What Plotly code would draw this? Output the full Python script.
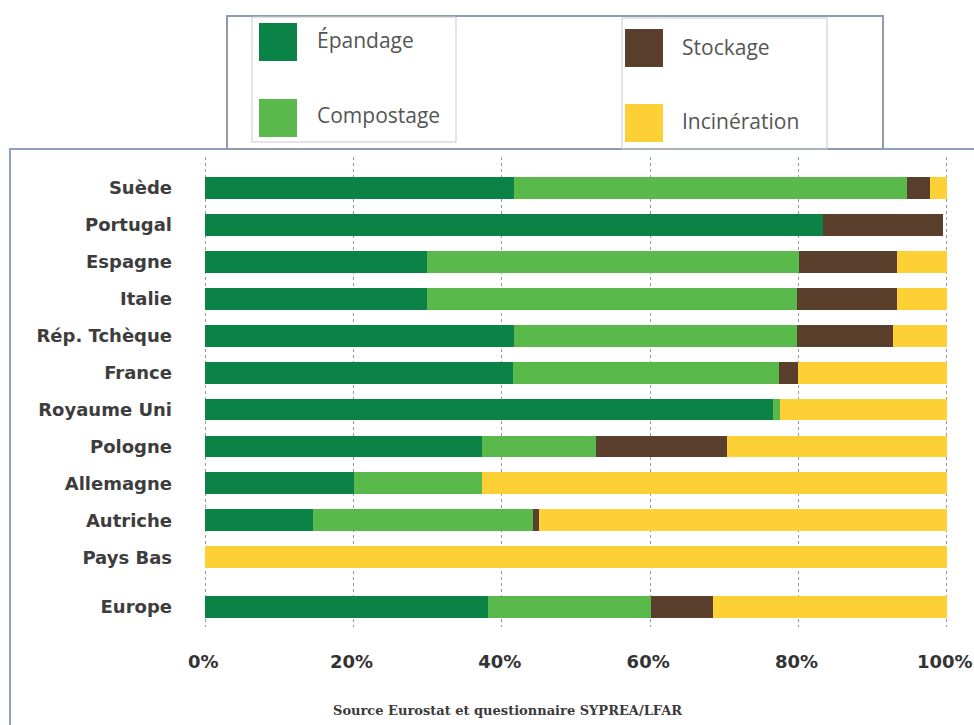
import plotly.graph_objects as go

# ---- data (percent shares) ----
countries = ["Suède", "Portugal", "Espagne", "Italie", "Rép. Tchèque", "France",
             "Royaume Uni", "Pologne", "Allemagne", "Autriche", "Pays Bas", "Europe"]
epandage = [41.6, 83.3, 29.9, 29.9, 41.6, 41.5, 76.5, 37.3, 20.1, 14.6, 0.0, 38.1]
compostage = [53.1, 0.0, 50.2, 49.9, 38.2, 35.9, 1.0, 15.4, 17.2, 29.6, 0.0, 22.0]
stockage = [3.1, 16.2, 13.2, 13.5, 12.9, 2.5, 0.0, 17.7, 0.0, 0.8, 0.0, 8.4]
incineration = [2.2, 0.0, 6.7, 6.7, 7.3, 20.1, 22.5, 29.6, 62.7, 55.0, 100.0, 31.5]
series_names = ["Épandage", "Compostage", "Stockage", "Incinération"]
x_ticks = [0, 20, 40, 60, 80, 100]
x_tick_labels = ["0%", "20%", "40%", "60%", "80%", "100%"]
source_text = "Source Eurostat et questionnaire SYPREA/LFAR"

# ---- styling ----
colors = ["#0b8347", "#5ab94b", "#5b3f2d", "#fdd136"]
W, H = 974, 725
L, R, T, B = 203, 25, 157, 98
X_PAD = 0.3
EUROPE_GAP = 0.35

positions = [i + (EUROPE_GAP if c == "Europe" else 0) for i, c in enumerate(countries)]

fig = go.Figure()
for name, vals, col in zip(series_names, [epandage, compostage, stockage, incineration], colors):
    fig.add_trace(go.Bar(
        y=positions, x=vals, name=name, orientation="h",
        marker=dict(color=col, line=dict(width=0)), width=0.59,
        showlegend=False, hoverinfo="x+name",
    ))

pw, ph = W - L - R, H - T - B


def px(xp):
    return (xp - L) / pw


def py(yp):
    return (H - B - yp) / ph


shapes = []
# chart frame
shapes.append(dict(type="line", xref="paper", yref="paper", x0=px(9), x1=px(974), y0=py(149), y1=py(149),
                   line=dict(color="#8ea2bf", width=2)))
shapes.append(dict(type="line", xref="paper", yref="paper", x0=px(10), x1=px(10), y0=py(149), y1=py(725),
                   line=dict(color="#8ea2bf", width=2)))
# legend outer box
shapes.append(dict(type="rect", xref="paper", yref="paper", x0=px(227), x1=px(883), y0=py(149), y1=py(16),
                   line=dict(color="#8f9bb0", width=2), fillcolor="rgba(0,0,0,0)"))
# legend sub-boxes
shapes.append(dict(type="rect", xref="paper", yref="paper", x0=px(252), x1=px(456), y0=py(142), y1=py(17),
                   line=dict(color="#c9c9c9", width=1), fillcolor="rgba(0,0,0,0)"))
shapes.append(dict(type="rect", xref="paper", yref="paper", x0=px(622), x1=px(827), y0=py(149), y1=py(18),
                   line=dict(color="#c9c9c9", width=1), fillcolor="rgba(0,0,0,0)"))

# legend swatches + labels
legend_layout = [  # (square x0, square y0, text x, text y)
    (259, 23, 315, 40),
    (259, 99, 315, 115),
    (625, 29, 680, 47),
    (625, 104, 680, 121),
]
annotations = []
for name, col, (sx, sy, tx, ty) in zip(series_names, colors, legend_layout):
    shapes.append(dict(type="rect", xref="paper", yref="paper", x0=px(sx), x1=px(sx + 38),
                       y0=py(sy + 38), y1=py(sy), line=dict(width=0), fillcolor=col))
    annotations.append(dict(xref="paper", yref="paper", x=px(tx), y=py(ty), text=name, showarrow=False,
                            xanchor="left", yanchor="middle",
                            font=dict(family="Open Sans", size=21, color="#555555")))

annotations.append(dict(xref="paper", yref="paper", x=px(507), y=py(710), text="<b>" + source_text + "</b>",
                        showarrow=False, xanchor="center", yanchor="middle",
                        font=dict(family="DejaVu Serif", size=13, color="#3a3a3a")))

fig.update_layout(
    width=W, height=H,
    margin=dict(l=L, r=R, t=T, b=B, pad=0, autoexpand=False),
    barmode="stack",
    paper_bgcolor="white", plot_bgcolor="white",
    shapes=shapes, annotations=annotations,
    showlegend=False,
    xaxis=dict(range=[-X_PAD, 100 + X_PAD], tickvals=x_ticks, ticktext=x_tick_labels,
               showgrid=True, gridcolor="#999999", griddash="dot", gridwidth=1,
               zeroline=False, showline=False, ticks="", automargin=False,
               ticklabelstandoff=22, ticklabelshift=-2,
               tickfont=dict(family="DejaVu Sans", size=18, color="#333333", weight="bold"),
               fixedrange=True),
    yaxis=dict(range=[11.35 + 0.54, -0.84], tickvals=positions, ticktext=countries,
               showgrid=False, zeroline=False, showline=False, ticks="", automargin=False,
               ticklabelstandoff=30,
               tickfont=dict(family="DejaVu Sans", size=18, color="#3d3d3d", weight="bold"),
               fixedrange=True),
)

fig.write_html("out.html")
